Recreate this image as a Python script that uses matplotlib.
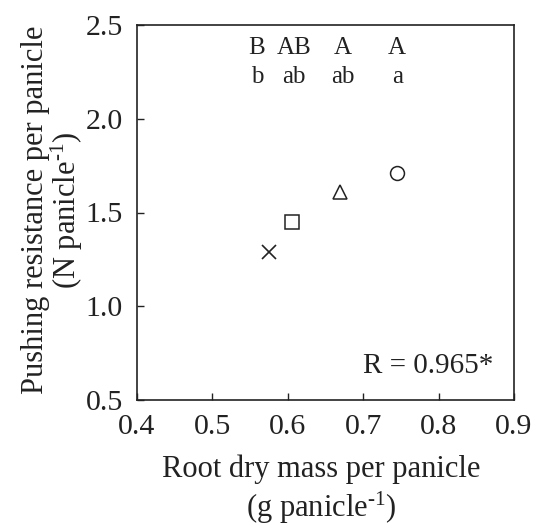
import matplotlib
matplotlib.use("Agg")
import matplotlib.pyplot as plt

plt.rcParams['font.family'] = ['Liberation Serif', 'DejaVu Serif']
plt.rcParams['mathtext.fontset'] = 'custom'
plt.rcParams['mathtext.rm'] = 'Liberation Serif'
plt.rcParams['mathtext.it'] = 'Liberation Serif:italic'
plt.rcParams['mathtext.default'] = 'regular'

# data
root_mass = [0.575, 0.605, 0.669, 0.745]
push_res = [1.289, 1.448, 1.611, 1.712]
markers = ['x', 's', '^', 'o']
upper_letters = ['B', 'AB', 'A', 'A']
lower_letters = ['b', 'ab', 'ab', 'a']
letter_x = [0.559, 0.608, 0.673, 0.745]
xticks = [0.4, 0.5, 0.6, 0.7, 0.8, 0.9]
yticks = [0.5, 1.0, 1.5, 2.0, 2.5]

W, H = 533, 526
fig = plt.figure(figsize=(W/100, H/100), dpi=100)
ax = fig.add_axes([137/W, 1-400/H, (514-137)/W, (400-25)/H])

ink = '#222222'
for x, y, m in zip(root_mass, push_res, markers):
    if m == 'x':
        ax.plot(x, y, marker=m, ms=10, mew=1.2, color=ink, ls='none')
    else:
        ax.plot(x, y, marker=m, ms=10, mew=1.1, mfc='white', mec=ink, ls='none')

for x, u, l in zip(letter_x, upper_letters, lower_letters):
    ax.text(x, 2.375, u, ha='center', va='center', fontsize=18, color=ink)
    ax.text(x, 2.225, l, ha='center', va='center', fontsize=18, color=ink)

ax.text(0.872, 0.644, 'R = 0.965*', ha='right', va='baseline', fontsize=21, color=ink)

ax.set_xlim(0.4, 0.9)
ax.set_ylim(0.5, 2.5)
ax.set_xticks(xticks)
ax.set_yticks(yticks)
ax.set_xticklabels([f'{v:.1f}' for v in xticks])
ax.set_yticklabels([f'{v:.1f}' for v in yticks])
ax.tick_params(direction='in', length=5, width=1, labelsize=21.5, colors=ink, pad=10)
for s in ax.spines.values():
    s.set_linewidth(1.2)
    s.set_color(ink)

sup = r'$^{\text{-}1}$'
fig.text(321/W, 1-477/H, 'Root dry mass per panicle', ha='center', va='baseline', fontsize=22, color=ink)
fig.text(321/W, 1-517/H, '(g panicle' + sup + ')', ha='center', va='baseline', fontsize=22, color=ink)
fig.text(43/W, 1-210/H, 'Pushing resistance per panicle', ha='center', va='baseline',
         rotation=90, rotation_mode='anchor', fontsize=22, color=ink)
fig.text(76/W, 1-210/H, '(N panicle' + sup + ')', ha='center', va='baseline',
         rotation=90, rotation_mode='anchor', fontsize=22, color=ink)

fig.savefig('out.png', dpi=100)
